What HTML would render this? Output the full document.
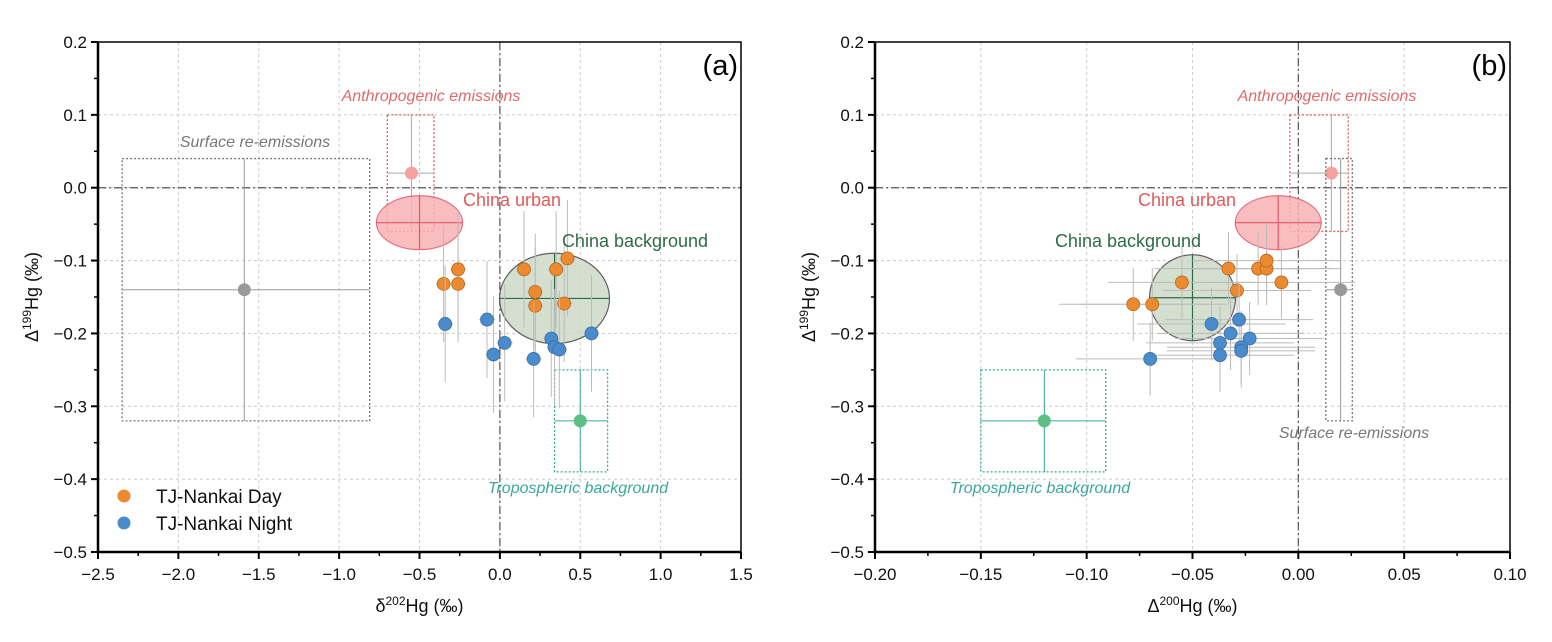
<!DOCTYPE html>
<html><head><meta charset="utf-8"><style>
body{margin:0;background:#fff;}
svg{display:block;font-family:"Liberation Sans",Arial,sans-serif;}
</style></head><body>
<svg id="c" width="1552" height="642" viewBox="0 0 1552 642"></svg>
<script>
const dayA_x=[-0.35,-0.26,-0.26,0.15,0.22,0.22,0.35,0.42,0.40];
const dayA_y=[-0.132,-0.112,-0.132,-0.112,-0.143,-0.162,-0.112,-0.097,-0.159];
const nightA_x=[-0.34,-0.08,0.03,-0.04,0.21,0.32,0.34,0.37,0.57];
const nightA_y=[-0.187,-0.181,-0.213,-0.229,-0.235,-0.207,-0.219,-0.222,-0.200];
const dayB_x=[-0.055,-0.078,-0.069,-0.033,-0.029,-0.019,-0.015,-0.015,-0.008];
const dayB_y=[-0.130,-0.160,-0.160,-0.111,-0.141,-0.111,-0.111,-0.100,-0.130];
const nightB_x=[-0.041,-0.028,-0.032,-0.037,-0.023,-0.027,-0.027,-0.037,-0.070];
const nightB_y=[-0.187,-0.181,-0.200,-0.213,-0.207,-0.219,-0.224,-0.230,-0.235];
const xTicksA=[-2.5,-2.0,-1.5,-1.0,-0.5,0.0,0.5,1.0,1.5];
const xTicksB=[-0.20,-0.15,-0.10,-0.05,0.00,0.05,0.10];
const yTicks=[0.2,0.1,0.0,-0.1,-0.2,-0.3,-0.4,-0.5];
const errYa=0.08, errXa=0.05, errYb=0.05, errXb=0.035;

const NS="http://www.w3.org/2000/svg";
const svg=document.getElementById('c');
function mk(tag,attrs,parent,text){const e=document.createElementNS(NS,tag);for(const k in attrs)e.setAttribute(k,attrs[k]);if(text!==undefined)e.textContent=text;(parent||svg).appendChild(e);return e;}
function fmt(v,d){return (v<0?'\u2212':'')+Math.abs(v).toFixed(d);}

function panel(P){
  const g=mk('g',{});
  
  
  const X=v=>P.x0+(v-P.xmin)/(P.xmax-P.xmin)*(P.x1-P.x0);
  const Y=v=>P.y0+(0.2-v)/0.7*(P.y1-P.y0);
  P.xt.forEach(v=>{const l=mk('line',{x1:X(v),x2:X(v),y1:P.y0,y2:P.y1,stroke:'#ccc','stroke-dasharray':'3,3','stroke-width':1},g);});
  yTicks.forEach(v=>{const l=mk('line',{x1:P.x0,x2:P.x1,y1:Y(v),y2:Y(v),stroke:'#ccc','stroke-dasharray':'3,3','stroke-width':1},g);});
  let z=mk('line',{x1:X(0),x2:X(0),y1:P.y0,y2:P.y1,stroke:'#555','stroke-dasharray':'8,3,2,3','stroke-width':1.2},g);
  
  z=mk('line',{x1:P.x0,x2:P.x1,y1:Y(0),y2:Y(0),stroke:'#555','stroke-dasharray':'8,3,2,3','stroke-width':1.2},g);
  
  P.refs.forEach(r=>{
    const b=mk('rect',{x:X(r.bx[0]),y:Y(r.by[0]),width:X(r.bx[1])-X(r.bx[0]),height:Y(r.by[1])-Y(r.by[0]),fill:'none',stroke:r.bc,'stroke-dasharray':'2,2','stroke-width':1.3},g);
    
    mk('line',{x1:X(r.bx[0]),x2:X(r.bx[1]),y1:Y(r.y),y2:Y(r.y),stroke:r.lc,'stroke-width':1},g);
    mk('line',{x1:X(r.x),x2:X(r.x),y1:Y(r.by[0]),y2:Y(r.by[1]),stroke:r.lc,'stroke-width':1},g);
    const c=mk('circle',{cx:X(r.x),cy:Y(r.y),r:6.5,fill:r.c},g);
    
  });
  P.ells.forEach(e=>{
    const el=mk('ellipse',{cx:X(e.x),cy:Y(e.y),rx:X(e.x+e.rx)-X(e.x),ry:Y(e.y-e.ry)-Y(e.y),fill:e.f,stroke:e.s,'stroke-width':1.2,opacity:0.85},g);
    
    mk('line',{x1:X(e.x-e.rx),x2:X(e.x+e.rx),y1:Y(e.y),y2:Y(e.y),stroke:e.lc,'stroke-width':1.2},g);
    mk('line',{x1:X(e.x),x2:X(e.x),y1:Y(e.y+e.ry),y2:Y(e.y-e.ry),stroke:e.lc,'stroke-width':1.2},g);
  });
  function series(xs,ys,col,stk,nm){
    xs.forEach((v,i)=>{
      mk('line',{x1:X(v),x2:X(v),y1:Y(ys[i]+P.ey),y2:Y(ys[i]-P.ey),stroke:'#bbb','stroke-width':1},g);
      mk('line',{x1:X(v-P.ex),x2:X(v+P.ex),y1:Y(ys[i]),y2:Y(ys[i]),stroke:'#bbb','stroke-width':1},g);
    });
    xs.forEach((v,i)=>{
      const c=mk('circle',{cx:X(v),cy:Y(ys[i]),r:6.5,fill:col,stroke:stk,'stroke-width':0.8},g);
      
    });
  }
  series(P.dx,P.dy,'#ec8a2f','#b56a22','day');
  series(P.nx,P.ny,'#4a8bcb','#3a6fa3','night');
  const f=mk('rect',{x:P.x0,y:P.y0,width:P.x1-P.x0,height:P.y1-P.y0,fill:'none',stroke:'#000','stroke-width':1.5},g);
  
  mk('line',{x1:P.x0,x2:P.x0,y1:P.y0,y2:P.y1,stroke:'#000','stroke-width':2.5},g);
  mk('line',{x1:P.x0,x2:P.x1,y1:P.y1,y2:P.y1,stroke:'#000','stroke-width':2.5},g);
  P.xt.forEach((v,i)=>{
    mk('line',{x1:X(v),x2:X(v),y1:P.y1,y2:P.y1+7,stroke:'#000','stroke-width':2},g);
    if(i<P.xt.length-1){const m=(v+P.xt[i+1])/2;mk('line',{x1:X(m),x2:X(m),y1:P.y1,y2:P.y1+4,stroke:'#000','stroke-width':1.5},g);}
    const t=mk('text',{x:X(v),y:P.y1+28,'text-anchor':'middle','font-size':17,fill:'#111'},g,fmt(v,P.xd));
    
  });
  yTicks.forEach((v,i)=>{
    mk('line',{x1:P.x0-7,x2:P.x0,y1:Y(v),y2:Y(v),stroke:'#000','stroke-width':2},g);
    if(i<yTicks.length-1){const m=(v+yTicks[i+1])/2;mk('line',{x1:P.x0-4,x2:P.x0,y1:Y(m),y2:Y(m),stroke:'#000','stroke-width':1.5},g);}
    const t=mk('text',{x:P.x0-11,y:Y(v)+6,'text-anchor':'end','font-size':17,fill:'#111'},g,fmt(v,1));
    
  });
  const xt=mk('text',{x:(P.x0+P.x1)/2,y:612,'text-anchor':'middle','font-size':18,fill:'#111'},g);
  
  xt.innerHTML=P.xl+'<tspan dy="-7" font-size="12">'+P.xs+'</tspan><tspan dy="7">Hg (‰)</tspan>';
  const yt=mk('text',{x:0,y:0,'text-anchor':'middle','font-size':18,fill:'#111',transform:'translate('+(P.x0-60)+','+((P.y0+P.y1)/2)+') rotate(-90)'},g);
  
  yt.innerHTML='Δ<tspan dy="-7" font-size="12">199</tspan><tspan dy="7">Hg (‰)</tspan>';
  const pl=mk('text',{x:P.x1-3,y:P.y0+33,'text-anchor':'end','font-size':29,fill:'#000'},g,P.lab);
  
  P.texts.forEach(t=>{const e=mk('text',{x:t[0],y:t[1],'text-anchor':'middle','font-size':t[5],fill:t[3],'font-style':t[4]?'italic':'normal'},g,t[2]);});
}

panel({name:'panel-a',x0:98,x1:741,y0:42,y1:552,xmin:-2.5,xmax:1.5,xt:xTicksA,xd:1,xl:'δ',xs:'202',lab:'(a)',ex:errXa,ey:errYa,
 dx:dayA_x,dy:dayA_y,nx:nightA_x,ny:nightA_y,
 refs:[{n:'anthropogenic',x:-0.55,y:0.02,bx:[-0.70,-0.41],by:[0.10,-0.06],bc:'#d06060',lc:'#aaa',c:'#f7a0a0'},
  {n:'surface-reemission',x:-1.59,y:-0.14,bx:[-2.35,-0.81],by:[0.04,-0.32],bc:'#777',lc:'#999',c:'#999'},
  {n:'tropospheric',x:0.50,y:-0.32,bx:[0.34,0.67],by:[-0.25,-0.39],bc:'#3aa898',lc:'#3aa898',c:'#5cbf8a'}],
 ells:[{n:'china-urban',x:-0.5,y:-0.048,rx:0.268,ry:0.037,f:'#f9b2b6',s:'#e05868',lc:'#e05868'},
  {n:'china-background',x:0.34,y:-0.152,rx:0.342,ry:0.062,f:'#cddac7',s:'#444',lc:'#2e6b4a'}],
 texts:[[431,101,'Anthropogenic emissions','#e06a6a',1,16,'anthropogenic-label'],[255,147,'Surface re-emissions','#777',1,16,'surface-label'],
  [512,206,'China urban','#e05a5a',0,18,'china-urban-label'],[635,247,'China background','#2e6b4a',0,18,'china-background-label'],
  [578,493,'Tropospheric background','#3aa898',1,16,'tropospheric-label']]});

panel({name:'panel-b',x0:875,x1:1510,y0:42,y1:552,xmin:-0.2,xmax:0.1,xt:xTicksB,xd:2,xl:'Δ',xs:'200',lab:'(b)',ex:errXb,ey:errYb,
 dx:dayB_x,dy:dayB_y,nx:nightB_x,ny:nightB_y,
 refs:[{n:'anthropogenic',x:0.0156,y:0.02,bx:[-0.004,0.0236],by:[0.10,-0.06],bc:'#d06060',lc:'#aaa',c:'#f7a0a0'},
  {n:'surface-reemission',x:0.020,y:-0.14,bx:[0.013,0.0255],by:[0.04,-0.32],bc:'#777',lc:'#999',c:'#999'},
  {n:'tropospheric',x:-0.12,y:-0.32,bx:[-0.15,-0.091],by:[-0.25,-0.39],bc:'#3aa898',lc:'#3aa898',c:'#5cbf8a'}],
 ells:[{n:'china-urban',x:-0.0095,y:-0.048,rx:0.0203,ry:0.037,f:'#f9b2b6',s:'#e05868',lc:'#e05868'},
  {n:'china-background',x:-0.050,y:-0.151,rx:0.0203,ry:0.059,f:'#cddac7',s:'#444',lc:'#2e6b4a'}],
 texts:[[1327,101,'Anthropogenic emissions','#e06a6a',1,16,'anthropogenic-label'],[1354,438,'Surface re-emissions','#777',1,16,'surface-label'],
  [1187,206,'China urban','#e05a5a',0,18,'china-urban-label'],[1128,247,'China background','#2e6b4a',0,18,'china-background-label'],
  [1040,493,'Tropospheric background','#3aa898',1,16,'tropospheric-label']]});

const lg=mk('g',{});


let c=mk('circle',{cx:124,cy:496,r:6.5,fill:'#ec8a2f'},lg);

let t=mk('text',{x:156,y:503,'font-size':19,fill:'#111'},lg,'TJ-Nankai Day');

c=mk('circle',{cx:124,cy:523,r:6.5,fill:'#4a8bcb'},lg);

t=mk('text',{x:156,y:530,'font-size':19,fill:'#111'},lg,'TJ-Nankai Night');

</script>
</body></html>
